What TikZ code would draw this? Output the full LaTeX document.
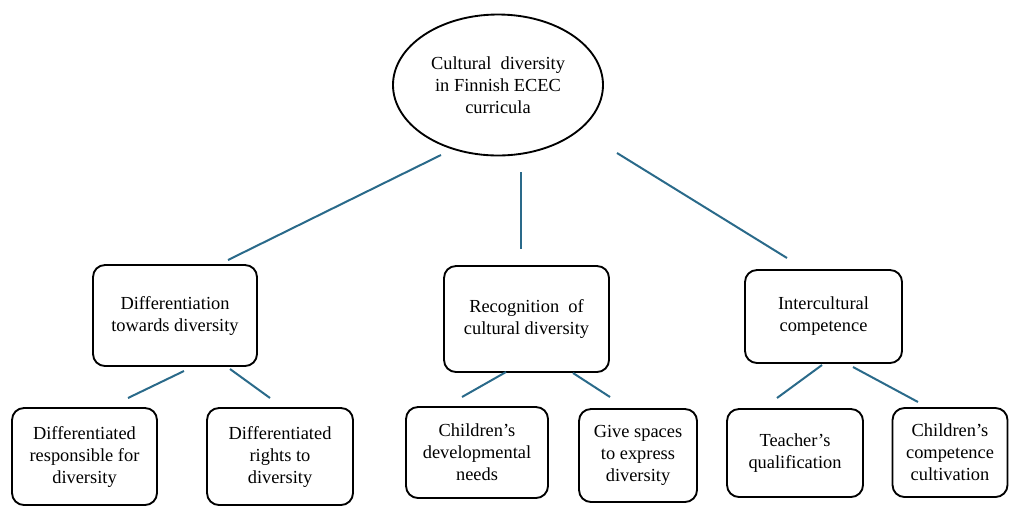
\documentclass[tikz,border=0pt]{standalone}
\usepackage{fontspec}
\setmainfont{Liberation Serif}
\usetikzlibrary{shapes.geometric}
\definecolor{linkblue}{HTML}{2A6A8A}
\begin{document}
\begin{tikzpicture}[x=0.75pt,y=-0.75pt,
  every node/.style={font=\fontsize{13.8}{16.5}\selectfont, align=center, inner sep=0pt},
  box/.style={draw, rounded corners=9pt, line width=1.4pt, rectangle},
  oval/.style={draw, ellipse, line width=1.4pt},
  link/.style={draw=linkblue, line width=1.5pt}]
\useasboundingbox (0,0) rectangle (1010,508);
% nodes
\node[oval, minimum width=157.5pt, minimum height=105.75pt] (root) at (498,85) {Cultural\ \ diversity\\in Finnish ECEC\\curricula};
\node[box, minimum width=123pt, minimum height=75.75pt] (A) at (175,315.5) {Differentiation\\towards diversity};
\node[box, minimum width=123.75pt, minimum height=79.5pt] (B) at (526.5,319) {Recognition\ \ of\\cultural\ diversity};
\node[box, minimum width=117.75pt, minimum height=69.75pt] (C) at (823.5,316.5) {Intercultural\\competence};
\node[box, minimum width=108.75pt, minimum height=72.75pt] (A1) at (84.5,456.5) {Differentiated\\responsible for\\diversity};
\node[box, minimum width=109.5pt, minimum height=72.75pt] (A2) at (280,456.5) {Differentiated\\rights to\\diversity};
\node[box, minimum width=106.5pt, minimum height=68.25pt] (B1) at (477,452.5) {Children’s\\developmental\\needs};
\node[box, minimum width=88.5pt, minimum height=69.75pt] (B2) at (638,455.5) {Give spaces\\to express\\diversity};
\node[box, minimum width=102pt, minimum height=66pt] (C1) at (795,453) {Teacher’s\\qualification};
\node[box, minimum width=86.25pt, minimum height=66.75pt] (C2) at (950,452.5) {Children’s\\competence\\cultivation};
% connector end points
\coordinate (rA) at (441,155); \coordinate (Ar) at (228,260);
\coordinate (rB) at (521,172); \coordinate (Br) at (521,249);
\coordinate (rC) at (617,153); \coordinate (Cr) at (787,258);
\coordinate (aA1) at (184,371); \coordinate (A1a) at (128,398);
\coordinate (aA2) at (230,369); \coordinate (A2a) at (270,398);
\coordinate (bB1) at (506,372); \coordinate (B1b) at (462,397);
\coordinate (bB2) at (573,373); \coordinate (B2b) at (610,397);
\coordinate (cC1) at (822,365); \coordinate (C1c) at (777,398);
\coordinate (cC2) at (853,367); \coordinate (C2c) at (918,402);
% connectors
\draw[link] (rA) -- (Ar);
\draw[link] (rB) -- (Br);
\draw[link] (rC) -- (Cr);
\draw[link] (aA1) -- (A1a);
\draw[link] (aA2) -- (A2a);
\draw[link] (bB1) -- (B1b);
\draw[link] (bB2) -- (B2b);
\draw[link] (cC1) -- (C1c);
\draw[link] (cC2) -- (C2c);
\end{tikzpicture}
\end{document}
